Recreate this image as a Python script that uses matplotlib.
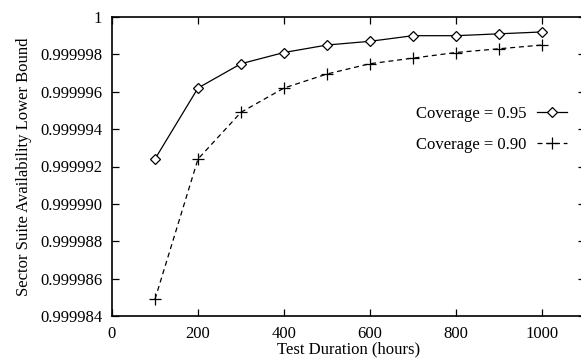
import matplotlib
matplotlib.use("Agg")
import matplotlib.pyplot as plt

hours = [100, 200, 300, 400, 500, 600, 700, 800, 900, 1000]
cov95 = [0.9999924, 0.9999962, 0.9999975, 0.9999981, 0.9999985,
         0.9999987, 0.9999990, 0.9999990, 0.9999991, 0.9999992]
cov90 = [0.9999849, 0.9999924, 0.9999949, 0.9999962, 0.99999695,
         0.9999975, 0.9999978, 0.9999981, 0.9999983, 0.9999985]
yticks = [0.999984, 0.999986, 0.999988, 0.999990, 0.999992,
          0.999994, 0.999996, 0.999998, 1.0]
ylabels = ["0.999984", "0.999986", "0.999988", "0.999990", "0.999992",
           "0.999994", "0.999996", "0.999998", "1"]
xticks = [0, 200, 400, 600, 800, 1000]

plt.rcParams['font.family'] = ['Liberation Serif', 'DejaVu Serif']
plt.rcParams['font.size'] = 12

fig = plt.figure(figsize=(5.81, 3.63), dpi=100)
W, H = 581, 363
left, right, top, bottom = 112, 585, 17, 316
ax = fig.add_axes([left / W, 1 - bottom / H, (right - left) / W, (bottom - top) / H])

ax.plot(hours, cov95, color='black', lw=0.9, marker='D', markersize=5,
        markerfacecolor='white', markeredgecolor='black', markeredgewidth=0.9,
        label='Coverage = 0.95')
ax.plot(hours, cov90, color='black', lw=0.9, ls=(0, (4, 3)), marker='+',
        markersize=8, markeredgewidth=0.9, label='Coverage = 0.90')

ax.set_xlim(0, 1100)
ax.set_ylim(0.999984, 1.0)
ax.set_xticks(xticks)
ax.set_yticks(yticks)
ax.set_yticklabels(ylabels)
ax.tick_params(direction='in', length=5, width=0.9, top=True, right=True,
               labelsize=12)
ax.tick_params(axis='x', pad=7)
ax.tick_params(axis='y', pad=7)
for s in ax.spines.values():
    s.set_linewidth(1.2)

ax.set_xlabel('Test Duration (hours)', fontsize=12, labelpad=0)
ax.set_ylabel('Sector Suite Availability Lower Bound', fontsize=12, labelpad=6)

leg = ax.legend(loc='upper right', bbox_to_anchor=(0.962, 0.703), frameon=False,
                markerfirst=False, handlelength=1.8, handletextpad=0.65,
                labelspacing=0.9, fontsize=12, borderaxespad=0, borderpad=0)

fig.savefig('out.png', dpi=100)
